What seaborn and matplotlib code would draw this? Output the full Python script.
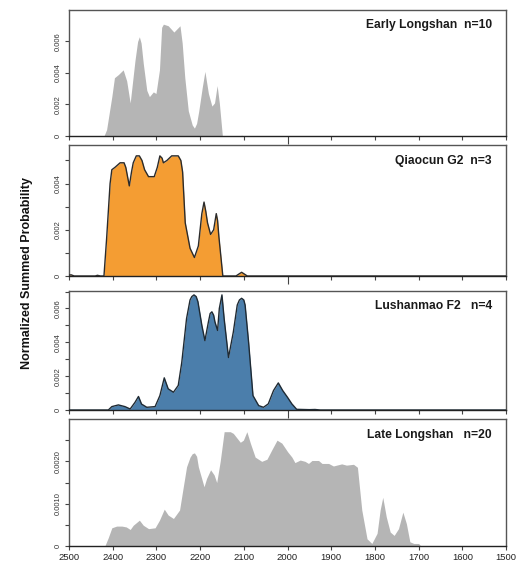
import matplotlib
matplotlib.use("Agg")
import matplotlib.pyplot as plt
import seaborn as sns
import pandas as pd

# Summed probability curves (years BC, normalized probability)
early_years = [2500, 2420, 2414, 2402, 2396, 2387, 2376, 2368, 2360, 2349, 2343, 2339, 2335,
               2330, 2322, 2316, 2307, 2301, 2293, 2288, 2284, 2273, 2260, 2246, 2241, 2235,
               2227, 2218, 2213, 2208, 2203, 2195, 2189, 2181, 2173, 2167, 2161, 2156, 2149,
               2110, 2105, 2100, 1500]
early_prob = [0, 0, 0.0004, 0.0025, 0.0037, 0.0039, 0.0042, 0.0035, 0.0021, 0.0048, 0.0060,
              0.0063, 0.0059, 0.0046, 0.0029, 0.0025, 0.0028, 0.0027, 0.0042, 0.0069, 0.0071,
              0.0070, 0.0066, 0.0070, 0.0059, 0.0037, 0.0016, 0.0007, 0.0005, 0.0008, 0.0016,
              0.0031, 0.0041, 0.0027, 0.0019, 0.0021, 0.0032, 0.0021, 0, 0, 0.00005, 0, 0]

qiaocun_years = [2500, 2495, 2488, 2440, 2435, 2428, 2420, 2414, 2406, 2402, 2395, 2383, 2374,
                 2370, 2366, 2362, 2357, 2353, 2346, 2339, 2333, 2327, 2318, 2305, 2298, 2292,
                 2287, 2284, 2276, 2265, 2250, 2244, 2240, 2234, 2223, 2213, 2204, 2196, 2191,
                 2187, 2183, 2176, 2169, 2163, 2160, 2157, 2148, 2118, 2110, 2105, 2100, 2092,
                 1500]
qiaocun_prob = [0.00004, 0.00005, 0, 0, 0.00003, 0, 0, 0.0016, 0.0040, 0.0046, 0.0047, 0.0049,
                0.0049, 0.0047, 0.0043, 0.0039, 0.0045, 0.0049, 0.0052, 0.0052, 0.0050, 0.0046,
                0.0043, 0.0043, 0.0047, 0.0052, 0.0051, 0.0049, 0.0050, 0.0052, 0.0052, 0.0050,
                0.0045, 0.0023, 0.0012, 0.0008, 0.0013, 0.0027, 0.0032, 0.0028, 0.0023, 0.0018,
                0.0020, 0.0027, 0.0024, 0.0017, 0, 0, 0.0001, 0.00016, 0.0001, 0, 0]

lushan_years = [2500, 2410, 2402, 2387, 2372, 2360, 2349, 2341, 2334, 2322, 2303, 2292, 2282,
                2273, 2261, 2250, 2242, 2231, 2223, 2219, 2214, 2209, 2205, 2196, 2189, 2181,
                2177, 2173, 2169, 2166, 2160, 2156, 2150, 2145, 2135, 2124, 2115, 2110, 2105,
                2100, 2097, 2089, 2079, 2066, 2055, 2044, 2032, 2021, 2011, 2000, 1990, 1979,
                1950, 1937, 1925, 1500]
lushan_prob = [0, 0, 0.0002, 0.0003, 0.0002, 0.00006, 0.00045, 0.0008, 0.00035, 0.00016, 0.0002,
               0.00085, 0.0019, 0.00125, 0.00105, 0.00145, 0.0028, 0.0054, 0.0065, 0.0067,
               0.0068, 0.0067, 0.0064, 0.0050, 0.0041, 0.0052, 0.0057, 0.0058, 0.0056, 0.0052,
               0.0047, 0.0060, 0.0068, 0.0054, 0.0031, 0.0046, 0.0062, 0.0065, 0.0066, 0.0065,
               0.0062, 0.0040, 0.00085, 0.00026, 0.00016, 0.00036, 0.00115, 0.0016, 0.00115,
               0.00075, 0.00036, 0.00004, 0.00002, 0.00003, 0, 0]

late_years = [2500, 2418, 2410, 2402, 2391, 2379, 2369, 2360, 2353, 2339, 2330, 2318, 2303,
              2293, 2282, 2273, 2261, 2247, 2240, 2231, 2223, 2218, 2213, 2208, 2204, 2191,
              2185, 2176, 2168, 2162, 2154, 2145, 2131, 2124, 2108, 2101, 2093, 2085, 2074,
              2059, 2047, 2036, 2024, 2013, 2000, 1990, 1983, 1971, 1960, 1952, 1944, 1929,
              1921, 1906, 1895, 1876, 1865, 1849, 1840, 1830, 1818, 1807, 1795, 1788, 1782,
              1774, 1765, 1756, 1746, 1736, 1728, 1720, 1711, 1700, 1695, 1500]
late_prob = [0, 0, 0.0002, 0.00043, 0.00047, 0.00047, 0.00045, 0.00039, 0.00049, 0.00061,
             0.00049, 0.00041, 0.00043, 0.00061, 0.00087, 0.00073, 0.00065, 0.00085, 0.0013,
             0.00187, 0.0021, 0.00218, 0.0022, 0.00212, 0.00187, 0.0014, 0.0016, 0.0018,
             0.00168, 0.0015, 0.0020, 0.0027, 0.0027, 0.00266, 0.00245, 0.0025, 0.0027,
             0.00243, 0.0021, 0.0020, 0.00205, 0.00227, 0.0025, 0.00243, 0.00223, 0.0021,
             0.00197, 0.00203, 0.0020, 0.00195, 0.00202, 0.00202, 0.00195, 0.00195, 0.00189,
             0.00194, 0.00191, 0.00193, 0.00186, 0.00085, 0.00017, 0.00006, 0.0003, 0.00085,
             0.00115, 0.00069, 0.00033, 0.00025, 0.00041, 0.0008, 0.00053, 0.0001, 0.00006,
             0.00006, 0, 0]

labels = ["Early Longshan  n=10", "Qiaocun G2  n=3", "Lushanmao F2   n=4", "Late Longshan   n=20"]
ymax = [0.008, 0.00567, 0.00703, 0.003]
yticks = [[0, 0.002, 0.004, 0.006],
          [0, 0.002, 0.004],
          [0, 0.002, 0.004, 0.006],
          [0, 0.001, 0.002]]
ytick_labels = [["0", "0.002", "0.004", "0.006"],
                ["0", "0.002", "0.004"],
                ["0", "0.002", "0.004", "0.006"],
                ["0", "0.0010", "0.0020"]]
yminor = [[], [0.001, 0.003, 0.005], [0.001, 0.003, 0.005, 0.007], [0.0005, 0.0015, 0.0025]]
xticks = list(range(2500, 1499, -100))

fill_colors = ["#b5b5b5", "#f49d33", "#4b7eab", "#b5b5b5"]
edge_colors = [None, "#2b2b2b", "#1f2a33", None]

sns.set_style("ticks")
plt.rcParams["font.family"] = ["Liberation Sans", "DejaVu Sans"]

fig = plt.figure(figsize=(5.24, 5.71), dpi=100)
W, H = 524, 571
# panel boxes in pixels: (top, bottom)
boxes = [(10, 136), (145, 276), (291, 410), (419, 546)]
left_px, right_px = 69, 506

curves = [(early_years, early_prob), (qiaocun_years, qiaocun_prob),
          (lushan_years, lushan_prob), (late_years, late_prob)]

for i, ((top, bot), (yrs, prob)) in enumerate(zip(boxes, curves)):
    ax = fig.add_axes([left_px / W, (H - bot) / H, (right_px - left_px) / W, (bot - top) / H])
    df = pd.DataFrame({"year": yrs, "prob": prob})
    ax.fill_between(df["year"], 0, df["prob"], color=fill_colors[i], linewidth=0, zorder=2)
    if edge_colors[i] is not None:
        sns.lineplot(data=df, x="year", y="prob", ax=ax, color=edge_colors[i], linewidth=1.0,
                     zorder=3)
    ax.set_xlim(2500, 1500)
    ax.set_ylim(0, ymax[i])
    ax.set_xlabel("")
    ax.set_ylabel("")
    ax.set_yticks(yticks[i])
    ax.set_yticklabels(ytick_labels[i], rotation=90, va="center", fontsize=5.5, color="#333333")
    ax.set_yticks(yminor[i], minor=True)
    if i < 3:
        ax.set_xticks([2000])
        ax.set_xticks(xticks, minor=True)
        ax.tick_params(axis="x", which="major", length=6, labelbottom=False)
        ax.tick_params(axis="x", which="minor", length=3)
    else:
        ax.set_xticks(xticks)
        ax.set_xticklabels([str(t) for t in xticks], fontsize=6.8, color="#222222")
        ax.tick_params(axis="x", which="major", length=3, pad=2)
    ax.tick_params(axis="y", which="both", length=3, width=0.8, pad=2, color="#444444")
    ax.tick_params(axis="x", which="both", width=0.8, color="#444444")
    for s in ax.spines.values():
        s.set_color("#555555")
        s.set_linewidth(1.0)
    ax.spines["bottom"].set_color("#222222")
    ax.text(0.968, 0.925, labels[i], transform=ax.transAxes, ha="right", va="top",
            fontsize=8.7, fontweight="bold", color="#1a1a1a")

fig.text(27 / W, (H - 273) / H, "Normalized Summed Probability", rotation=90,
         ha="center", va="center", fontsize=9, fontweight="bold", color="#111111")

fig.savefig("out.png", dpi=100)
